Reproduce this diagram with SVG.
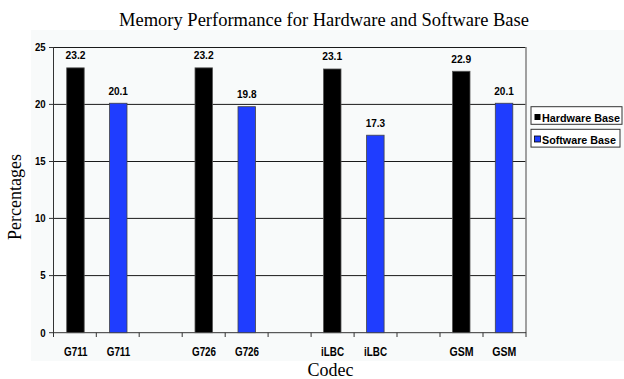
<svg xmlns="http://www.w3.org/2000/svg" width="624" height="379" viewBox="0 0 624 379">
<style>
.serif{font-family:"Liberation Serif","Times New Roman",serif;fill:#000}
.b{font-family:"Liberation Sans Narrow","Liberation Sans",Arial,sans-serif;font-weight:bold;fill:#000}
.grid{stroke:#1a1a1a;stroke-width:1}
.hw{fill:#000;stroke:#555;stroke-width:0.8}
.sw{fill:#1f3dff;stroke:#444;stroke-width:0.8}
.tick{stroke:#333;stroke-width:1}
</style>
<rect x="0" y="0" width="624" height="379" fill="#ffffff"/>
<rect x="31" y="30" width="593" height="331" fill="#f8fafa"/>
<text class="serif" x="324" y="26" font-size="18.5" text-anchor="middle">Memory Performance for Hardware and Software Base</text>
<text class="serif" x="21" y="197" font-size="18" text-anchor="middle" transform="rotate(-90 21 197)">Percentages</text>
<text class="serif" x="330.5" y="376" font-size="18" text-anchor="middle">Codec</text>
<g id="axes">
<line class="grid" x1="53.3" y1="47.5" x2="526" y2="47.5" stroke="#000"/>
<line class="grid" x1="53.3" y1="104.4" x2="526" y2="104.4"/>
<line class="grid" x1="53.3" y1="161.5" x2="526" y2="161.5"/>
<line class="grid" x1="53.3" y1="218.4" x2="526" y2="218.4"/>
<line class="grid" x1="53.3" y1="275.6" x2="526" y2="275.6"/>
<line x1="526" y1="47" x2="526" y2="333" stroke="#8a8a8a" stroke-width="1.6"/>
<line class="tick" x1="53.5" y1="47" x2="53.5" y2="337"/>
<line class="tick" x1="53.3" y1="332.7" x2="526" y2="332.7"/>
<g class="tick">
<line x1="49" y1="47.5" x2="53.5" y2="47.5"/><line x1="49" y1="104.4" x2="53.5" y2="104.4"/><line x1="49" y1="161.5" x2="53.5" y2="161.5"/><line x1="49" y1="218.4" x2="53.5" y2="218.4"/><line x1="49" y1="275.6" x2="53.5" y2="275.6"/><line x1="49" y1="332.7" x2="53.5" y2="332.7"/>
<line x1="96.3" y1="332.7" x2="96.3" y2="337"/><line x1="139.2" y1="332.7" x2="139.2" y2="337"/><line x1="182.2" y1="332.7" x2="182.2" y2="337"/><line x1="225.2" y1="332.7" x2="225.2" y2="337"/><line x1="268.1" y1="332.7" x2="268.1" y2="337"/><line x1="311.1" y1="332.7" x2="311.1" y2="337"/><line x1="354.1" y1="332.7" x2="354.1" y2="337"/><line x1="397" y1="332.7" x2="397" y2="337"/><line x1="440" y1="332.7" x2="440" y2="337"/><line x1="483" y1="332.7" x2="483" y2="337"/><line x1="526" y1="332.7" x2="526" y2="337"/>
</g>
<g class="b" font-size="11" text-anchor="end">
<text x="45.7" y="51.3" textLength="10.7" lengthAdjust="spacingAndGlyphs">25</text><text x="45.7" y="108.2" textLength="10.7" lengthAdjust="spacingAndGlyphs">20</text><text x="45.7" y="165.3" textLength="10.7" lengthAdjust="spacingAndGlyphs">15</text><text x="45.7" y="222.2" textLength="10.7" lengthAdjust="spacingAndGlyphs">10</text><text x="45.7" y="279.4" textLength="5.4" lengthAdjust="spacingAndGlyphs">5</text><text x="45.7" y="336.5" textLength="5.4" lengthAdjust="spacingAndGlyphs">0</text>
</g>
</g>
<g id="bars">
<rect class="hw" x="66.7" y="67.85" width="17.5" height="264.85"/>
<rect class="sw" x="109.5" y="103.24" width="17.5" height="229.46"/>
<rect class="hw" x="195" y="67.85" width="17.5" height="264.85"/>
<rect class="sw" x="238" y="106.67" width="17.5" height="226.03"/>
<rect class="hw" x="323.5" y="68.99" width="17.5" height="263.71"/>
<rect class="sw" x="366.6" y="135.2" width="17.5" height="197.5"/>
<rect class="hw" x="452.5" y="71.27" width="17.5" height="261.43"/>
<rect class="sw" x="495.3" y="103.24" width="17.5" height="229.46"/>
</g>
<g id="values" class="b" font-size="11" text-anchor="middle">
<text x="75.5" y="59.3" textLength="20" lengthAdjust="spacingAndGlyphs">23.2</text>
<text x="118.2" y="94.7" textLength="19.5" lengthAdjust="spacingAndGlyphs">20.1</text>
<text x="203.7" y="59.3" textLength="20" lengthAdjust="spacingAndGlyphs">23.2</text>
<text x="246.8" y="98.1" textLength="19.5" lengthAdjust="spacingAndGlyphs">19.8</text>
<text x="332.2" y="60.4" textLength="20" lengthAdjust="spacingAndGlyphs">23.1</text>
<text x="375.4" y="126.6" textLength="19.5" lengthAdjust="spacingAndGlyphs">17.3</text>
<text x="461.2" y="62.7" textLength="20" lengthAdjust="spacingAndGlyphs">22.9</text>
<text x="504" y="94.7" textLength="19.5" lengthAdjust="spacingAndGlyphs">20.1</text>
</g>
<g id="xlabels" class="b" font-size="12.5" text-anchor="middle">
<text x="75.8" y="355.7" textLength="23.5" lengthAdjust="spacingAndGlyphs">G711</text>
<text x="118.5" y="355.7" textLength="23.5" lengthAdjust="spacingAndGlyphs">G711</text>
<text x="204" y="355.7" textLength="24" lengthAdjust="spacingAndGlyphs">G726</text>
<text x="247" y="355.7" textLength="24" lengthAdjust="spacingAndGlyphs">G726</text>
<text x="332.5" y="355.7" textLength="23" lengthAdjust="spacingAndGlyphs">iLBC</text>
<text x="375.5" y="355.7" textLength="23" lengthAdjust="spacingAndGlyphs">iLBC</text>
<text x="461.5" y="355.7" textLength="24" lengthAdjust="spacingAndGlyphs">GSM</text>
<text x="504.3" y="355.7" textLength="24" lengthAdjust="spacingAndGlyphs">GSM</text>
</g>
<g id="legend-hardware">
<rect x="531" y="106.7" width="91" height="17.6" fill="#ffffff" stroke="#333" stroke-width="1"/>
<rect x="534.5" y="114" width="6" height="6" fill="#000"/>
<text class="b" x="542" y="121.7" font-size="10.8" textLength="78" lengthAdjust="spacingAndGlyphs">Hardware Base</text>
</g>
<g id="legend-software">
<rect x="531" y="129.3" width="89" height="17.8" fill="#ffffff" stroke="#333" stroke-width="1"/>
<rect x="534.5" y="136" width="6" height="6" fill="#1f3dff" stroke="#000" stroke-width="0.8"/>
<text class="b" x="542" y="144.2" font-size="10.8" textLength="74" lengthAdjust="spacingAndGlyphs">Software Base</text>
</g>
</svg>
